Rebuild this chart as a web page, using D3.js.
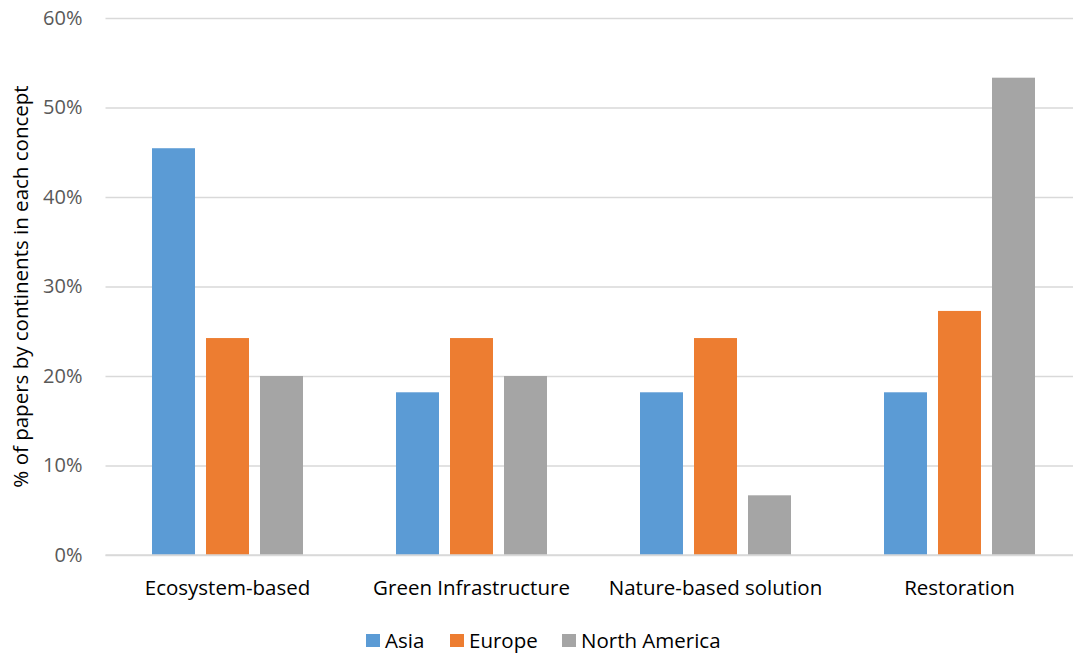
<!DOCTYPE html>
<html>
<head>
<meta charset="utf-8">
<script src="https://cdn.jsdelivr.net/npm/d3@7"></script>
<style>
  html, body { margin: 0; padding: 0; background: #fff; }
  svg { display: block; font-family: "Open Sans", "Noto Sans", sans-serif; }
</style>
</head>
<body>
<svg id="chart" width="1073" height="654"></svg>
<script>
// Share of papers by continent for each concept
const concepts = ["Ecosystem-based", "Green Infrastructure", "Nature-based solution", "Restoration"];
const continents = ["Asia", "Europe", "North America"];
const asia = [0.4545, 0.1818, 0.1818, 0.1818];
const europe = [0.2424, 0.2424, 0.2424, 0.2727];
const northAmerica = [0.20, 0.20, 0.0667, 0.5333];
const yTicks = [0, 0.1, 0.2, 0.3, 0.4, 0.5, 0.6];
const colors = ["#5B9BD5", "#ED7D31", "#A5A5A5"];

const seriesValues = [asia, europe, northAmerica];
const rows = concepts.map((c, i) => ({
  concept: c,
  values: continents.map((k, j) => ({ key: k, value: seriesValues[j][i] }))
}));

const svg = d3.select("#chart");
const plotLeft = 105.5, plotRight = 1081.5, plotTop = 18, plotBottom = 555;

const x0 = d3.scaleBand().domain(concepts).range([plotLeft, plotRight]).paddingInner(0).paddingOuter(0);
const groupW = 151;
const x1 = d3.scaleBand().domain(continents).range([0, groupW]).paddingInner(0.204).paddingOuter(0);
const y = d3.scaleLinear().domain([0, 0.6]).range([plotBottom, plotTop]);
const color = d3.scaleOrdinal().domain(continents).range(colors);

// gridlines and y tick labels
const yAxis = d3.axisLeft(y).tickValues(yTicks).tickFormat(d3.format(".0%"))
  .tickSize(-(plotRight - plotLeft)).tickPadding(23);
const gy = svg.append("g").attr("transform", `translate(${plotLeft},0)`).call(yAxis);
gy.select(".domain").remove();
gy.selectAll(".tick line").attr("stroke", "#d9d9d9").attr("stroke-width", 1.3);
gy.selectAll(".tick text").attr("fill", "#595959").attr("font-size", 20)
  .attr("font-family", "Open Sans, sans-serif");

// bars
const groups = svg.append("g").selectAll("g").data(rows).join("g")
  .attr("transform", d => `translate(${x0(d.concept) + (x0.bandwidth() - groupW) / 2},0)`);
groups.selectAll("rect").data(d => d.values).join("rect")
  .attr("x", d => x1(d.key))
  .attr("width", x1.bandwidth())
  .attr("y", d => y(d.value))
  .attr("height", d => y(0) - y(d.value))
  .attr("fill", d => color(d.key));

// baseline drawn over bars
svg.append("line").attr("x1", plotLeft).attr("x2", plotRight).attr("y1", y(0)).attr("y2", y(0))
  .attr("stroke", "#d9d9d9").attr("stroke-width", 1.3);

// category labels
const xAxis = d3.axisBottom(x0).tickSize(0).tickPadding(25);
const gx = svg.append("g").attr("transform", `translate(0,${plotBottom})`).call(xAxis);
gx.select(".domain").remove();
gx.selectAll(".tick text").attr("fill", "#000").attr("font-size", 20.5)
  .attr("font-family", "Open Sans, sans-serif");

// y axis title
svg.append("text")
  .attr("transform", `translate(28,${(plotTop + plotBottom) / 2}) rotate(-90)`)
  .attr("text-anchor", "middle")
  .attr("font-size", 20.5)
  .attr("fill", "#000")
  .text("% of papers by continents in each concept");

// legend
const legendX = [366, 450, 562];
const legend = svg.append("g").selectAll("g").data(continents).join("g")
  .attr("transform", (d, i) => `translate(${legendX[i]},634)`);
legend.append("rect").attr("width", 14).attr("height", 13).attr("fill", d => color(d));
legend.append("text").attr("x", 19).attr("y", 6.5).attr("dy", "0.36em")
  .attr("font-size", 20.5).attr("fill", "#000").text(d => d);
</script>
</body>
</html>
